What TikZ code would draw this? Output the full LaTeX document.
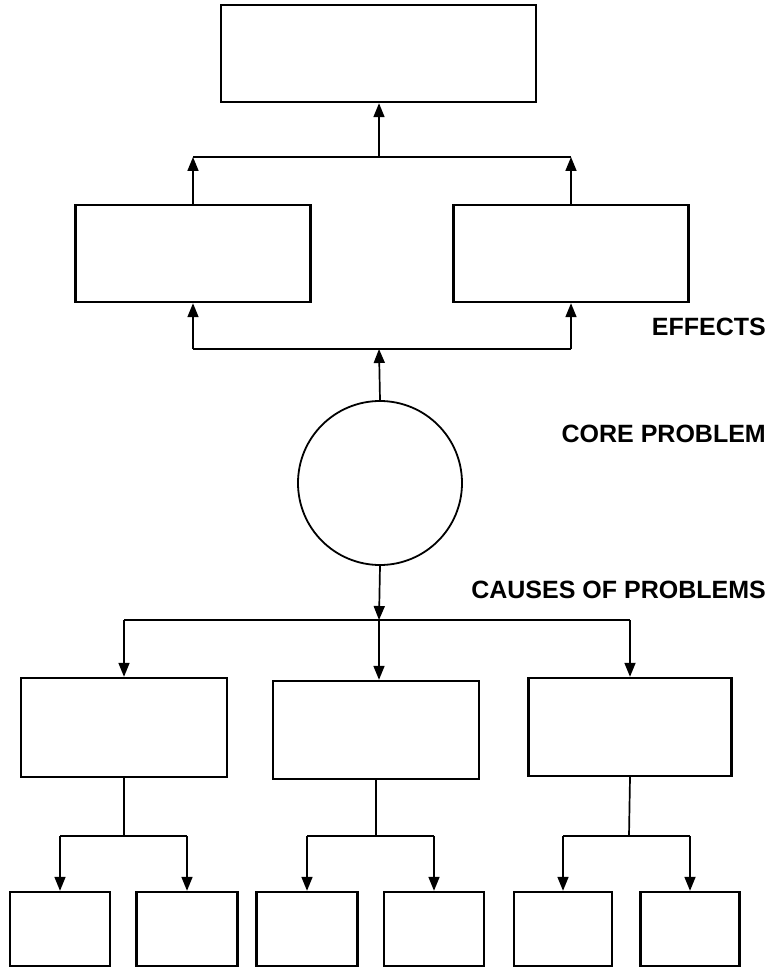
\documentclass[tikz,border=0pt]{standalone}
\usepackage{fontspec}
\setmainfont{Liberation Sans}
\usetikzlibrary{arrows.meta}
\begin{document}
\begin{tikzpicture}[x=1pt,y=-1pt,
  box/.style={draw,line width=2.4pt,rectangle,inner sep=0pt},
  core/.style={draw,line width=1.8pt,circle,inner sep=0pt,minimum size=164pt},
  link/.style={line width=1.7pt},
  arr/.style={link,-{Triangle[length=14pt,width=11pt]}},
  lbl/.style={anchor=base east,font=\bfseries\fontsize{25}{25}\selectfont,inner sep=0pt}]
\useasboundingbox (0,0) rectangle (770,968);

% effects
\node[box,minimum width=315pt,minimum height=97pt] (T) at (378.5,53.5) {};
\node[box,minimum width=235pt,minimum height=97pt] (E1) at (193,253.5) {};
\node[box,minimum width=235pt,minimum height=97pt] (E2) at (571,253.5) {};

% core problem
\node[core] (P) at (380,483) {};

% causes
\node[box,minimum width=206pt,minimum height=99pt] (C1) at (124,727.5) {};
\node[box,minimum width=206pt,minimum height=98pt] (C2) at (376,730) {};
\node[box,minimum width=203pt,minimum height=98pt] (C3) at (630,727) {};

% sub-causes
\node[box,minimum width=100pt,minimum height=74pt] (B1) at (60,929) {};
\node[box,minimum width=101pt,minimum height=74pt] (B2) at (187,929) {};
\node[box,minimum width=101pt,minimum height=74pt] (B3) at (307,929) {};
\node[box,minimum width=100pt,minimum height=74pt] (B4) at (434,929) {};
\node[box,minimum width=98pt,minimum height=74pt] (B5) at (563,929) {};
\node[box,minimum width=99pt,minimum height=74pt] (B6) at (690,929) {};

% labels
\node[lbl] (lE) at (766,335) {EFFECTS};
\node[lbl] (lP) at (766,442) {CORE PROBLEM};
\node[lbl] (lC) at (766,598) {CAUSES OF PROBLEMS};

% junction points
\coordinate (j1) at (379,157);
\coordinate (j2) at (379,349);
\coordinate (j3) at (379,620);
\coordinate (k1) at (124,836);
\coordinate (k2) at (376,836);
\coordinate (k3) at (629,836);

% effect connectors
\draw[arr] (E1.north) -- (E1.north |- j1);
\draw[arr] (E2.north) -- (E2.north |- j1);
\draw[link] (E1.north |- j1) -- (E2.north |- j1);
\draw[arr] (j1) -- (j1 |- T.south);
\draw[arr] (E1.south |- j2) -- (E1.south);
\draw[arr] (E2.south |- j2) -- (E2.south);
\draw[link] (E1.south |- j2) -- (E2.south |- j2);
\draw[arr] (P.north) -- (j2);

% cause connectors
\draw[arr] (P.south) -- (j3);
\draw[arr] (j3) -- (j3 |- C2.north);
\draw[link] (C1.north |- j3) -- (C3.north |- j3);
\draw[arr] (C1.north |- j3) -- (C1.north);
\draw[arr] (C3.north |- j3) -- (C3.north);

% sub-cause connectors
\draw[link] (C1.south) -- (k1);
\draw[link] (C2.south) -- (k2);
\draw[link] (C3.south) -- (k3);
\draw[link] (B1.north |- k1) -- (B2.north |- k1);
\draw[link] (B3.north |- k2) -- (B4.north |- k2);
\draw[link] (B5.north |- k3) -- (B6.north |- k3);
\draw[arr] (B1.north |- k1) -- (B1.north);
\draw[arr] (B2.north |- k1) -- (B2.north);
\draw[arr] (B3.north |- k2) -- (B3.north);
\draw[arr] (B4.north |- k2) -- (B4.north);
\draw[arr] (B5.north |- k3) -- (B5.north);
\draw[arr] (B6.north |- k3) -- (B6.north);
\end{tikzpicture}
\end{document}
